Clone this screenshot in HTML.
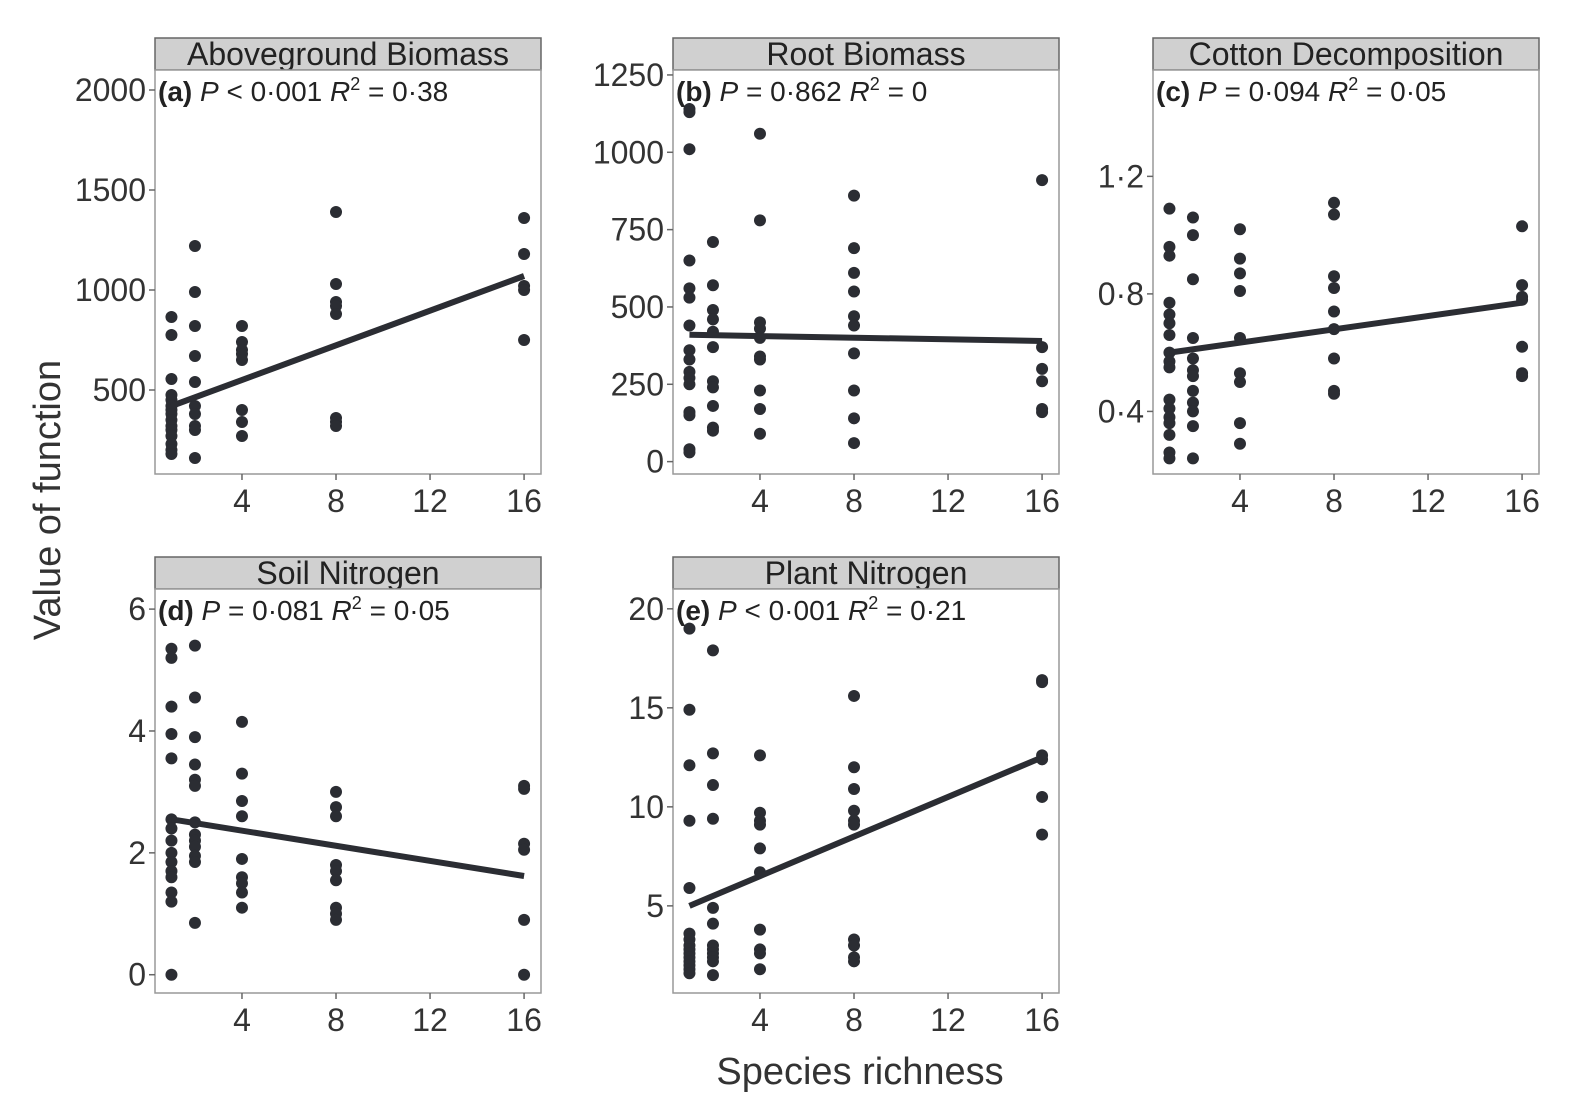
<!DOCTYPE html>
<html><head><meta charset="utf-8"><style>
body{margin:0;background:#fff;}
svg{display:block;font-family:"Liberation Sans",sans-serif;}
</style></head><body>
<svg id="chart" width="1588" height="1119" viewBox="0 0 1588 1119">
<text x="60" y="500" font-size="38" fill="#333" text-anchor="middle" transform="rotate(-90 60 500)">Value of function</text>
<text x="860" y="1084" font-size="38" fill="#333" text-anchor="middle">Species richness</text>
</svg>
<script>
const panelTitles=["Aboveground Biomass","Root Biomass","Cotton Decomposition","Soil Nitrogen","Plant Nitrogen"];
const panelLabels=["(a)","(b)","(c)","(d)","(e)"];
const panelStats=[["<","0·001","0·38"],["=","0·862","0"],["=","0·094","0·05"],["=","0·081","0·05"],["<","0·001","0·21"]];
const xTicks=[4,8,12,16];
const yTicksA=[500,1000,1500,2000];
const yTicksB=[0,250,500,750,1000,1250];
const yTicksC=[0.4,0.8,1.2];
const yTicksD=[0,2,4,6];
const yTicksE=[5,10,15,20];
const yTickLabelsC=["0·4","0·8","1·2"];
const richness=[1,2,4,8,16];
const valuesA=[[865,775,555,475,450,420,400,380,350,320,300,270,230,200,180],[1220,990,820,670,540,420,380,320,300,160],[820,740,700,680,650,400,340,270],[1390,1030,940,920,880,360,340,320],[1360,1180,1020,1000,750]];
const valuesB=[[1140,1130,1010,650,560,530,440,360,330,290,270,250,160,150,40,30],[710,570,490,460,420,370,260,240,180,110,100],[1060,780,450,430,400,340,330,230,170,90],[860,690,610,550,470,440,350,230,140,60],[910,370,300,260,170,160]];
const valuesC=[[1.09,0.96,0.93,0.77,0.73,0.70,0.66,0.60,0.57,0.55,0.44,0.41,0.38,0.36,0.32,0.26,0.24],[1.06,1.00,0.85,0.65,0.58,0.54,0.52,0.47,0.43,0.40,0.35,0.24],[1.02,0.92,0.87,0.81,0.65,0.53,0.50,0.36,0.29],[1.11,1.07,0.86,0.82,0.74,0.68,0.58,0.47,0.46],[1.03,0.83,0.79,0.78,0.62,0.53,0.52]];
const valuesD=[[5.35,5.2,4.4,3.95,3.55,2.55,2.4,2.2,2.0,1.85,1.7,1.6,1.35,1.2,0],[5.4,4.55,3.9,3.45,3.2,3.1,2.5,2.3,2.2,2.1,1.95,1.85,0.85],[4.15,3.3,2.85,2.6,1.9,1.6,1.5,1.35,1.1],[3.0,2.75,2.6,1.8,1.7,1.55,1.1,1.0,0.9],[3.1,3.05,2.15,2.05,0.9,0]];
const valuesE=[[19,14.9,12.1,9.3,5.9,3.6,3.3,3.0,2.8,2.6,2.4,2.2,2.0,1.8,1.6],[17.9,12.7,11.1,9.4,4.9,4.1,3.0,2.8,2.6,2.4,2.2,1.5],[12.6,9.7,9.3,9.1,7.9,6.7,3.8,2.8,2.6,1.8],[15.6,12.0,10.9,9.8,9.3,9.1,3.3,3.0,2.4,2.2],[16.4,16.3,12.6,12.4,10.5,8.6]];
const fitA=[420,1070],fitB=[410,390],fitC=[0.6,0.77],fitD=[2.55,1.62],fitE=[5.0,12.5];

const NS="http://www.w3.org/2000/svg";
const svg=document.getElementById('chart');
function mk(tag,attrs,parent){const e=document.createElementNS(NS,tag);for(const k in attrs)e.setAttribute(k,attrs[k]);(parent||svg).appendChild(e);return e;}
const panels=[
 {x:155,y:70,ymin:80,ymax:2100,ticks:yTicksA,labels:yTicksA.map(String),vals:valuesA,fit:fitA},
 {x:673,y:70,ymin:-40,ymax:1266,ticks:yTicksB,labels:yTicksB.map(String),vals:valuesB,fit:fitB},
 {x:1153,y:70,ymin:0.187,ymax:1.562,ticks:yTicksC,labels:yTickLabelsC,vals:valuesC,fit:fitC},
 {x:155,y:589,ymin:-0.3,ymax:6.33,ticks:yTicksD,labels:yTicksD.map(String),vals:valuesD,fit:fitD},
 {x:673,y:589,ymin:0.6,ymax:21.0,ticks:yTicksE,labels:yTicksE.map(String),vals:valuesE,fit:fitE}
];
const W=386,H=404,XMIN=0.3,XMAX=16.72;
panels.forEach((p,i)=>{
 const g=mk('g',{});
 
 
 const sx=v=>p.x+(v-XMIN)/(XMAX-XMIN)*W;
 const sy=v=>p.y+H-(v-p.ymin)/(p.ymax-p.ymin)*H;
 const strip=mk('rect',{x:p.x,y:p.y-32,width:W,height:32,fill:'#d0d0d0',stroke:'#666','stroke-width':1.5},g);
 
 
 const st=mk('text',{x:p.x+W/2,y:p.y-5,'font-size':32,fill:'#222','text-anchor':'middle'},g);
 st.textContent=panelTitles[i];
 
 
 const box=mk('rect',{x:p.x,y:p.y,width:W,height:H,fill:'#fff',stroke:'#999','stroke-width':1.5},g);
 
 
 xTicks.forEach(t=>{
  mk('line',{x1:sx(t),x2:sx(t),y1:p.y+H,y2:p.y+H+6,stroke:'#666','stroke-width':1.5},g);
  const tl=mk('text',{x:sx(t),y:p.y+H+38,'font-size':32,fill:'#333','text-anchor':'middle'},g);
  tl.textContent=t;
  
  
 });
 p.ticks.forEach((t,j)=>{
  mk('line',{x1:p.x-6,x2:p.x,y1:sy(t),y2:sy(t),stroke:'#666','stroke-width':1.5},g);
  const tl=mk('text',{x:p.x-9,y:sy(t)+11,'font-size':32,fill:'#333','text-anchor':'end'},g);
  tl.textContent=p.labels[j];
  
  
 });
 p.vals.forEach((arr,k)=>arr.forEach(v=>{
  const c=mk('circle',{cx:sx(richness[k]),cy:sy(v),r:6,fill:'#2b2d33'},g);
  
  
 }));
 const l=mk('line',{x1:sx(1),y1:sy(p.fit[0]),x2:sx(16),y2:sy(p.fit[1]),stroke:'#2b2d33','stroke-width':6},g);
 
 
 const s=panelStats[i];
 const an=mk('text',{x:p.x+3,y:p.y+31,'font-size':28,fill:'#222'},g);
 an.innerHTML='<tspan font-weight="bold">'+panelLabels[i]+'</tspan> <tspan font-style="italic">P</tspan> '+s[0]+' '+s[1]+' <tspan font-style="italic">R</tspan><tspan font-size="18" dy="-11">2</tspan><tspan dy="11"> = '+s[2]+'</tspan>';
 
 
});
</script>
</body></html>
